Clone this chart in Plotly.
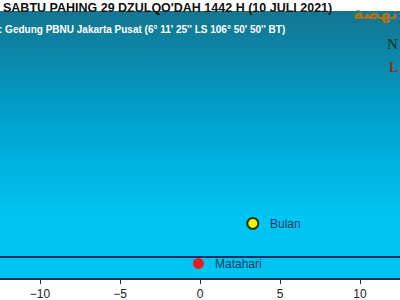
import plotly.graph_objects as go

# --- data ---
body_names = ["Bulan", "Matahari"]
body_x = [3.3, -0.1]          # azimuth difference (deg)
body_alt = [2.1, -0.4]        # altitude (deg)
body_fill = ["#f4f000", "#ec1c1c"]
body_edge = ["#1c3414", "#ec1c1c"]
body_edge_w = [2, 0]

x_ticks = [-10, -5, 0, 5, 10]
x_range = [-12.5, 12.5]
y_range = [-1.3125, 15.375]

title_text = "SABTU PAHING 29 DZULQO'DAH 1442 H (10 JULI 2021)"
subtitle_text = ": Gedung PBNU Jakarta Pusat (6° 11' 25'' LS 106° 50' 50'' BT)"

# sky gradient (background)
sky_y = [-5, 2.5, 15.4, 20]

fig = go.Figure()

fig.add_trace(go.Heatmap(
    x=[-20, 20], y=sky_y, z=[[v, v] for v in sky_y],
    zmin=2.5, zmax=15.4, zsmooth="best",
    colorscale=[[0, "#00c4f2"], [0.5, "#00a0cb"], [1, "#147590"]],
    showscale=False, hoverinfo="skip",
))

fig.add_trace(go.Scatter(
    x=body_x, y=body_alt, mode="markers",
    marker=dict(size=11, color=body_fill,
                line=dict(color=body_edge, width=body_edge_w)),
    hoverinfo="skip", showlegend=False,
))

for n, xv, yv in zip(body_names, body_x, body_alt):
    fig.add_annotation(x=xv, y=yv, text=n, showarrow=False, xanchor="left",
                       xshift=15, yshift=-1,
                       font=dict(family="Liberation Sans, Arial", size=12, color="#1b3a63"))

# horizon
fig.add_shape(type="line", xref="paper", x0=0, x1=1, yref="y", y0=0, y1=0,
              line=dict(color="#13315c", width=1.8))

fig.add_annotation(xref="paper", yref="paper", x=334/400, y=1, yanchor="bottom",
                   xanchor="right", yshift=-6, showarrow=False, text="<b>" + title_text + "</b>",
                   font=dict(family="Liberation Sans, Arial", size=12.5, color="#111111"))
fig.add_annotation(xref="paper", yref="paper", x=0, y=1, xanchor="left", yanchor="middle",
                   yshift=-18, xshift=-3, showarrow=False, text="<b>" + subtitle_text + "</b>",
                   font=dict(family="Liberation Sans, Arial", size=10, color="#ffffff"))
fig.add_annotation(xref="paper", yref="paper", x=1, y=1, xanchor="right", yanchor="top",
                   yshift=10, xshift=0, showarrow=False, text="<b>نهضة</b>",
                   font=dict(family="DejaVu Sans", size=17, color="#a8741c"))
fig.add_annotation(xref="paper", yref="paper", x=1, y=1, xanchor="right", yanchor="middle",
                   yshift=-33, xshift=0, showarrow=False, text="N",
                   font=dict(family="Liberation Serif, serif", size=15, color="#1a2a20"))
fig.add_annotation(xref="paper", yref="paper", x=1, y=1, xanchor="right", yanchor="middle",
                   yshift=-56, xshift=0, showarrow=False, text="<b>L</b>",
                   font=dict(family="Liberation Serif, serif", size=14, color="#8a3410"))

fig.update_layout(
    width=400, height=300,
    margin=dict(l=0, r=0, t=11, b=22),
    paper_bgcolor="#ffffff", plot_bgcolor="#00c4f2",
    showlegend=False,
    xaxis=dict(range=x_range, tickvals=x_ticks, showgrid=False, zeroline=False,
               showline=True, linecolor="#13315c", linewidth=1.5,
               ticks="outside", ticklen=4, tickcolor="#13315c",
               tickfont=dict(family="Liberation Sans, Arial", size=12, color="#222222")),
    yaxis=dict(range=y_range, showgrid=False, zeroline=False, showticklabels=False,
               ticks=""),
)

fig.write_html("out.html")
